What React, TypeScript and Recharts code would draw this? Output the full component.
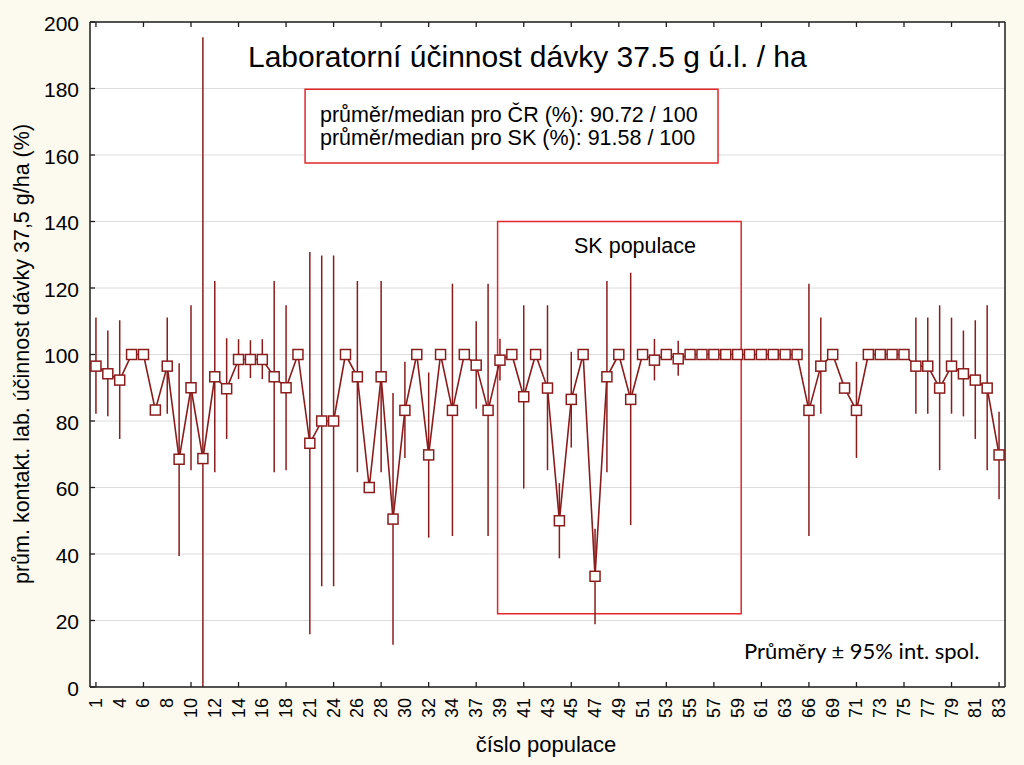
import {
  LineChart,
  Line,
  XAxis,
  YAxis,
  CartesianGrid,
  ErrorBar,
  ReferenceArea,
} from "recharts";

// population labels (numbers are not consecutive)
const populations = [
  "1", "2", "4", "5", "6", "7", "8", "9", "10", "11", "12", "13", "14", "15", "16", "17", "18",
  "20", "21", "22", "24", "25", "26", "27", "28", "29", "30", "31", "32", "33", "34", "36",
  "37", "38", "39", "40", "41", "42", "43", "44", "45", "46", "47", "48", "49", "50", "51",
  "52", "53", "54", "55", "56", "57", "58", "59", "60", "61", "62", "63", "64", "66", "67",
  "69", "70", "71", "72", "73", "74", "75", "76", "77", "78", "79", "80", "81", "82", "83",
];

const means = [
  96.5, 94.2, 92.3, 100, 100, 83.3, 96.5, 68.5, 90.0, 68.7, 93.3, 89.7, 98.5, 98.5, 98.5, 93.3, 90.0,
  100, 73.3, 80.0, 80.0, 100, 93.3, 60.0, 93.3, 50.5, 83.2, 100, 69.8, 100, 83.2, 100,
  96.8, 83.2, 98.3, 100, 87.3, 100, 89.9, 50.0, 86.5, 100, 33.3, 93.3, 100, 86.5, 100,
  98.3, 100, 98.7, 100, 100, 100, 100, 100, 100, 100, 100, 100, 100, 83.2, 96.5,
  100, 89.9, 83.2, 100, 100, 100, 100, 96.5, 96.5, 89.9, 96.5, 94.2, 92.3, 89.9, 69.8,
];

// 95% CI upper / lower bounds (lower bound of pop. 11 is cut at the axis)
const ciUpper = [
  111.1, 107.2, 110.3, 100, 100, 83.3, 111.1, 97.4, 114.8, 195.4, 122.1, 104.9, 104.6, 104.3, 104.6, 122.1, 114.8,
  100, 130.8, 129.8, 129.8, 100, 122.1, 60.0, 122.1, 88.4, 97.8, 100, 94.6, 100, 121.3, 100,
  110.0, 121.3, 104.7, 100, 114.8, 100, 114.8, 61.3, 100.8, 100, 47.6, 122.1, 100, 124.6, 100,
  104.7, 100, 104.1, 100, 100, 100, 100, 100, 100, 100, 100, 100, 100, 121.3, 111.1,
  100, 89.9, 97.8, 100, 100, 100, 100, 111.1, 111.1, 114.8, 111.1, 107.2, 110.3, 114.8, 82.8,
];

const ciLower = [
  82.2, 81.4, 74.6, 100, 100, 83.3, 82.2, 39.4, 65.2, 0, 64.6, 74.6, 92.6, 92.9, 92.6, 64.6, 65.2,
  100, 15.9, 30.3, 30.3, 100, 64.6, 60.0, 64.6, 12.7, 68.9, 100, 44.9, 100, 45.4, 100,
  83.7, 45.4, 92.2, 100, 59.7, 100, 65.2, 38.7, 72.0, 100, 18.9, 64.6, 100, 48.7, 100,
  92.2, 100, 93.6, 100, 100, 100, 100, 100, 100, 100, 100, 100, 100, 45.4, 82.2,
  100, 89.9, 68.9, 100, 100, 100, 100, 82.2, 82.2, 65.2, 82.2, 81.4, 74.6, 65.2, 56.5,
];

const yTicks = [0, 20, 40, 60, 80, 100, 120, 140, 160, 180, 200];

const data = populations.map((p, i) => ({
  idx: i,
  pop: p,
  mean: means[i],
  err: [means[i] - ciLower[i], ciUpper[i] - means[i]],
}));

const labelTicks = data.filter((d) => d.idx % 2 === 0).map((d) => d.idx);
const markTicks = data.filter((d) => d.idx % 4 === 0).map((d) => d.idx);

const RED = "#8b1c1c";
const BOX = "#e3262c";
const AXIS = "#1e1e1e";
const FONT = "'Liberation Sans', Arial, sans-serif";

const LeftTick = (p: any) => (
  <g>
    <line x1={p.x + 11} x2={p.x + 16} y1={p.y} y2={p.y} stroke={AXIS} strokeWidth={1.3} />
    <text x={p.x} y={p.y + 1} textAnchor="end" dominantBaseline="central" fontSize={21} fill="#000" fontFamily={FONT}>
      {p.payload.value}
    </text>
  </g>
);

const RightTick = (p: any) => (
  <line x1={p.x - 5} x2={p.x} y1={p.y} y2={p.y} stroke={AXIS} strokeWidth={1.3} />
);

const TopTick = (p: any) => (
  <line x1={p.x} x2={p.x} y1={p.y} y2={p.y + 5} stroke={AXIS} strokeWidth={1.3} />
);

const BottomTick = (p: any) => {
  const v = p.payload.value;
  return (
    <g>
      {v % 4 === 0 && (
        <line x1={p.x} x2={p.x} y1={p.y - 11} y2={p.y - 16} stroke={AXIS} strokeWidth={1.3} />
      )}
      <text
        x={p.x}
        y={p.y}
        transform={`rotate(-90, ${p.x}, ${p.y})`}
        textAnchor="end"
        dominantBaseline="central"
        fontSize={18}
        fill="#000"
        fontFamily={FONT}
      >
        {populations[v]}
      </text>
    </g>
  );
};

const SquareDot = (p: any) => (
  <rect
    key={`d-${p.index}`}
    x={p.cx - 5}
    y={p.cy - 5}
    width={10}
    height={10}
    fill="#fff"
    stroke={RED}
    strokeWidth={1.5}
  />
);

export default function App() {
  return (
    <div style={{ position: "relative", width: 1024, height: 765, background: "#fcf9ee" }}>
      <style>{"body{margin:0}"}</style>
      <LineChart width={1024} height={765} data={data} margin={{ top: 0, right: 0, bottom: 0, left: 0 }}>
        <CartesianGrid xAxisId="b" yAxisId="l" vertical={false} stroke="#dcdcdc" fill="#ffffff" fillOpacity={1} />
        <XAxis
          xAxisId="b"
          dataKey="idx"
          type="number"
          domain={[-0.5, 76.5]}
          allowDataOverflow
          ticks={labelTicks}
          interval={0}
          height={78}
          tickSize={0}
          tickMargin={11}
          tick={<BottomTick />}
          axisLine={{ stroke: AXIS, strokeWidth: 1.5 }}
        />
        <XAxis
          xAxisId="t"
          orientation="top"
          dataKey="idx"
          type="number"
          domain={[-0.5, 76.5]}
          allowDataOverflow
          ticks={markTicks}
          interval={0}
          height={22}
          tickSize={0}
          tickMargin={0}
          tick={<TopTick />}
          axisLine={{ stroke: AXIS, strokeWidth: 1.5 }}
        />
        <YAxis
          yAxisId="l"
          domain={[0, 200]}
          ticks={yTicks}
          interval={0}
          width={90}
          tickSize={0}
          tickMargin={11}
          tick={<LeftTick />}
          axisLine={{ stroke: AXIS, strokeWidth: 1.5 }}
        />
        <YAxis
          yAxisId="r"
          orientation="right"
          domain={[0, 200]}
          ticks={yTicks}
          interval={0}
          width={19}
          tickSize={0}
          tickMargin={0}
          tick={<RightTick />}
          axisLine={{ stroke: AXIS, strokeWidth: 1.5 }}
        />
        <ReferenceArea
          xAxisId="b"
          yAxisId="l"
          x1={17.6}
          x2={52.35}
          y1={157.6}
          y2={179.8}
          fill="#ffffff"
          fillOpacity={1}
          stroke={BOX}
          strokeWidth={1.5}
        />
        <ReferenceArea
          xAxisId="b"
          yAxisId="l"
          x1={33.8}
          x2={54.3}
          y1={22}
          y2={140}
          fill="none"
          fillOpacity={0}
          stroke={BOX}
          strokeWidth={1.5}
        />
        <Line
          xAxisId="b"
          yAxisId="l"
          dataKey="mean"
          type="linear"
          stroke={RED}
          strokeWidth={1.6}
          dot={<SquareDot />}
          activeDot={false}
          isAnimationActive={false}
        >
          <ErrorBar dataKey="err" direction="y" width={0} stroke={RED} strokeWidth={1.5} isAnimationActive={false} />
        </Line>
      </LineChart>
      <svg
        width={1024}
        height={765}
        style={{ position: "absolute", left: 0, top: 0, pointerEvents: "none" }}
        fontFamily={FONT}
      >
        <text x={248} y={67} fontSize={30} fill="#000">
          Laboratorní účinnost dávky 37.5 g ú.l. / ha
        </text>
        <text x={320} y={121.5} fontSize={21.5} fill="#000">
          průměr/median pro ČR (%): 90.72 / 100
        </text>
        <text x={320} y={145} fontSize={21.5} fill="#000">
          průměr/median pro SK (%): 91.58 / 100
        </text>
        <text x={635} y={253} fontSize={21.5} fill="#000" textAnchor="middle">
          SK populace
        </text>
        <text x={744} y={659} fontSize={22} fill="#000" fontFamily="Lato, 'Open Sans', sans-serif">
          Průměry ± 95% int. spol.
        </text>
        <text
          x={22}
          y={354}
          fontSize={21.5}
          fill="#000"
          textAnchor="middle"
          dominantBaseline="central"
          transform="rotate(-90, 22, 354)"
        >
          prům. kontakt. lab. účinnost dávky 37,5 g/ha (%)
        </text>
        <text x={546} y={752} fontSize={22} fill="#000" textAnchor="middle">
          číslo populace
        </text>
      </svg>
    </div>
  );
}
